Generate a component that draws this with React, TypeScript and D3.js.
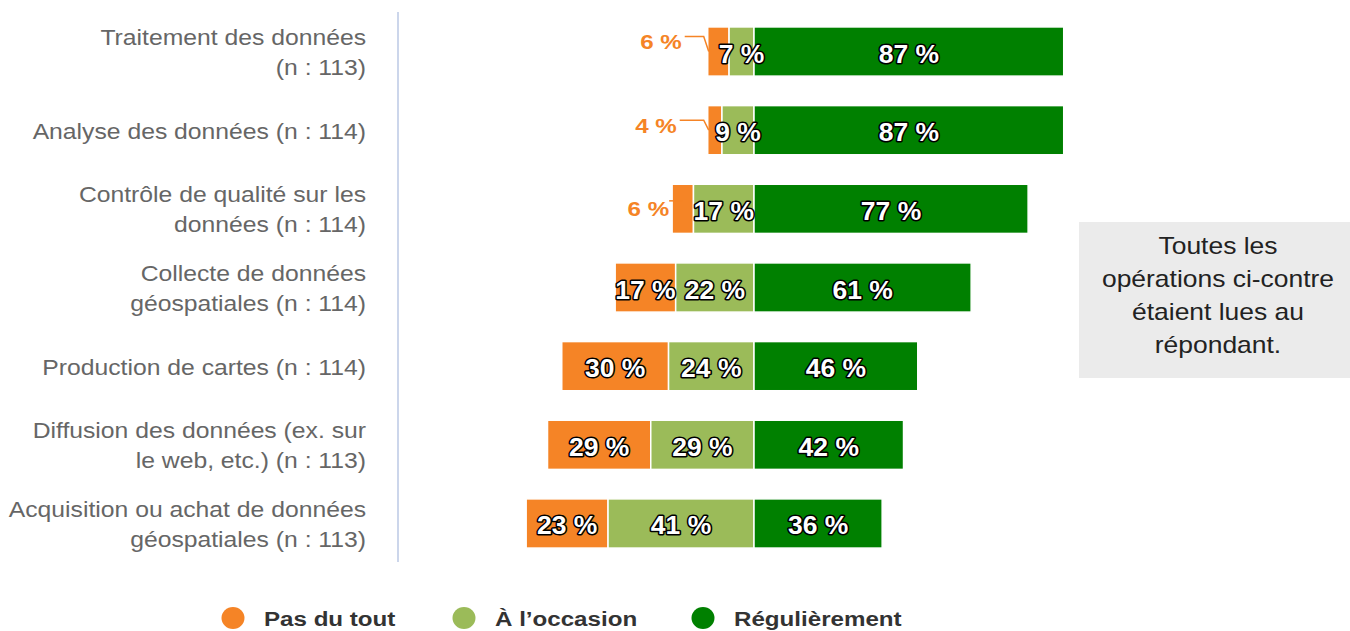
import React from "react";
import * as d3 from "d3";

const categories = [
  "Traitement des données (n : 113)",
  "Analyse des données (n : 114)",
  "Contrôle de qualité sur les données (n : 114)",
  "Collecte de données géospatiales (n : 114)",
  "Production de cartes (n : 114)",
  "Diffusion des données (ex. sur le web, etc.) (n : 113)",
  "Acquisition ou achat de données géospatiales (n : 113)",
];
const categoryLines = [
  ["Traitement des données", "(n : 113)"],
  ["Analyse des données (n : 114)"],
  ["Contrôle de qualité sur les", "données (n : 114)"],
  ["Collecte de données", "géospatiales (n : 114)"],
  ["Production de cartes (n : 114)"],
  ["Diffusion des données (ex. sur", "le web, etc.) (n : 113)"],
  ["Acquisition ou achat de données", "géospatiales (n : 113)"],
];
const pasDuTout = [6, 4, 6, 17, 30, 29, 23];
const aLoccasion = [7, 9, 17, 22, 24, 29, 41];
const regulierement = [87, 87, 77, 61, 46, 42, 36];
const seriesNames = ["Pas du tout", "À l’occasion", "Régulièrement"];
const seriesColors = ["#f58426", "#9bbb59", "#008000"];
const noteLines = ["Toutes les", "opérations ci-contre", "étaient lues au", "répondant."];

const SX = 1.15; // horizontal stretch of the reference text
const FONT = "'Liberation Sans', Arial, sans-serif";

function T(props: any) {
  const { x, y, sx, children, ...rest } = props;
  return (
    <text transform={`translate(${x},${y}) scale(${sx ?? SX},1)`} fontFamily={FONT} {...rest}>
      {children}
    </text>
  );
}

export default function App() {
  const W = 1350, H = 631;
  const center = 754;
  const pxPer = 3.56;
  const x = d3.scaleLinear().domain([-60, 90]).range([center - 60 * pxPer, center + 90 * pxPer]);
  const y = d3.scaleBand<string>().domain(categories).range([12, 563]).paddingInner(0.375).paddingOuter(0.19);
  const bw = y.bandwidth();

  const rows = categories.map((c, i) => {
    const y0 = y(c)!;
    const cy = y0 + bw / 2;
    const segs = [
      { s: 0, v: pasDuTout[i], x0: x(-(aLoccasion[i] + pasDuTout[i])), x1: x(-aLoccasion[i]) },
      { s: 1, v: aLoccasion[i], x0: x(-aLoccasion[i]), x1: x(0) },
      { s: 2, v: regulierement[i], x0: x(0), x1: x(regulierement[i]) },
    ];
    return { c, i, y0, cy, segs };
  });

  return (
    <svg width={W} height={H} style={{ position: "absolute", left: 0, top: 0 }}>
      <rect x={0} y={0} width={W} height={H} fill="#ffffff" />
      {/* axis line */}
      <line x1={398} x2={398} y1={12} y2={562} stroke="#ccd6eb" strokeWidth={2} />
      {/* category labels */}
      {rows.map((r) => {
        const lines = categoryLines[r.i];
        const lh = 30;
        const start = r.cy - ((lines.length - 1) * lh) / 2 + 8.5;
        return lines.map((l, k) => (
          <T key={r.c + k} x={366} y={start + k * lh} textAnchor="end" fontSize={21.5} fill="#666666">
            {l}
          </T>
        ));
      })}
      {/* bars */}
      {rows.map((r) =>
        r.segs.map((s) => (
          <rect
            key={r.c + s.s}
            x={s.x0}
            y={r.y0}
            width={s.x1 - s.x0}
            height={bw}
            fill={seriesColors[s.s]}
            stroke="#ffffff"
            strokeWidth={1.5}
          />
        ))
      )}
      {/* data labels */}
      {rows.map((r) =>
        r.segs.map((s) => {
          const w = s.x1 - s.x0;
          const outside = s.s === 0 && s.v < 10;
          if (!outside) {
            return (
              <T
                key={"l" + r.c + s.s}
                x={(s.x0 + s.x1) / 2}
                y={r.cy + 11}
                sx={1.06}
                textAnchor="middle"
                fontSize={25}
                fontWeight="bold"
                fill="#ffffff"
                stroke="#000000"
                strokeWidth={3}
                strokeLinejoin="round"
                paintOrder="stroke"
              >
                {`${s.v} %`}
              </T>
            );
          }
          const elbow = r.i < 2;
          const textEnd = elbow ? s.x0 - 26 - r.i * 5 : s.x0 - 3;
          const ty = elbow ? r.cy - 10 + r.i * 5 : r.cy;
          const ly = ty - 5;
          const path = elbow
            ? `M${textEnd + 3},${ly}H${s.x0 - 4}L${s.x0 + 1},${r.cy}`
            : `M${textEnd},${r.cy - 8}H${s.x0 + w / 2}`;
          return (
            <g key={"l" + r.c + s.s}>
              <path d={path} fill="none" stroke={seriesColors[0]} strokeWidth={1.5} />
              <T x={textEnd} y={ty + 7.5} textAnchor="end" fontSize={21} fontWeight="bold" fill={seriesColors[0]}>
                {`${s.v} %`}
              </T>
            </g>
          );
        })
      )}
      {/* note box */}
      <rect x={1079} y={222} width={271} height={156} fill="#ebebeb" />
      {noteLines.map((l, k) => (
        <T key={"n" + k} x={1218} y={254 + k * 33} textAnchor="middle" fontSize={23} fill="#222222">
          {l}
        </T>
      ))}
      {/* legend */}
      {seriesNames.map((n, k) => {
        const cx = [233, 464, 703][k];
        return (
          <g key={"lg" + k}>
            <ellipse cx={cx} cy={618} rx={11.5} ry={11} fill={seriesColors[k]} />
            <T x={cx + 31} y={626} fontSize={21} fontWeight="bold" fill="#333333">
              {n}
            </T>
          </g>
        );
      })}
    </svg>
  );
}
